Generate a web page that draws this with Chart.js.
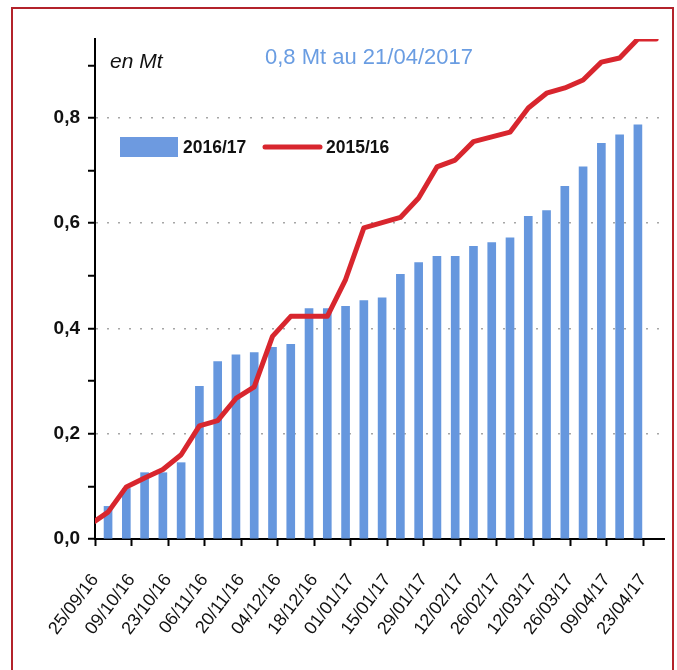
<!DOCTYPE html>
<html><head><meta charset="utf-8">
<script src="https://cdn.jsdelivr.net/npm/chart.js@4/dist/chart.umd.min.js"></script>
<style>
html,body{margin:0;padding:0;background:#fff;}
#wrap{position:relative;width:677px;height:670px;overflow:hidden;background:#fff;}
#frame{position:absolute;left:11px;top:7px;width:663px;height:720px;border:2px solid #b3232b;box-sizing:border-box;pointer-events:none;}
canvas{position:absolute;left:0;top:0;}
</style></head><body>
<div id="wrap"><canvas id="c" width="677" height="670"></canvas><div id="frame"></div></div>
<script>
// ---- data ----
const startDate = '25/09/16';
const barDates = ['30/09/16','07/10/16','14/10/16','21/10/16','28/10/16','04/11/16','11/11/16','18/11/16','25/11/16','02/12/16',
  '09/12/16','16/12/16','23/12/16','30/12/16','06/01/17','13/01/17','20/01/17','27/01/17','03/02/17','10/02/17',
  '17/02/17','24/02/17','03/03/17','10/03/17','17/03/17','24/03/17','31/03/17','07/04/17','14/04/17','21/04/17'];
const bars2016_17 = [0.062,0.096,0.126,0.126,0.145,0.290,0.337,0.350,0.354,0.364,
  0.370,0.438,0.438,0.442,0.453,0.458,0.503,0.525,0.537,0.537,
  0.556,0.563,0.572,0.613,0.624,0.670,0.707,0.752,0.768,0.787];
const lineDates = ['25/09/16','30/09/16','07/10/16','14/10/16','21/10/16','28/10/16','04/11/16','11/11/16','18/11/16','25/11/16','02/12/16',
  '09/12/16','16/12/16','23/12/16','30/12/16','06/01/17','13/01/17','20/01/17','27/01/17','03/02/17','10/02/17',
  '17/02/17','24/02/17','03/03/17','10/03/17','17/03/17','24/03/17','31/03/17','07/04/17','14/04/17','21/04/17','28/04/17'];
const line2015_16 = [0.034,0.051,0.099,0.116,0.132,0.160,0.215,0.225,0.267,0.289,0.385,
  0.423,0.423,0.423,0.493,0.591,0.601,0.611,0.648,0.707,0.720,
  0.755,0.764,0.773,0.819,0.847,0.857,0.872,0.906,0.914,0.950,0.950];
const xTickLabels = ['25/09/16','09/10/16','23/10/16','06/11/16','20/11/16','04/12/16','18/12/16','01/01/17',
  '15/01/17','29/01/17','12/02/17','26/02/17','12/03/17','26/03/17','09/04/17','23/04/17'];
const yTickLabels = ['0,0','0,2','0,4','0,6','0,8'];
const seriesNames = ['2016/17','2015/16'];
const unitLabel = 'en Mt';
const noteLabel = '0,8 Mt au 21/04/2017';

// ---- helpers ----
function toUTC(s){const p=s.split('/');return Date.UTC(2000+ +p[2], +p[1]-1, +p[0]);}
const t0 = toUTC(startDate);
function dayOf(s){return Math.round((toUTC(s)-t0)/86400000);}

const BLUE = '#6697de';
const RED = '#d8262e';
const SANS = "'Liberation Sans', Arial, sans-serif";

const overlay = {
  id: 'overlay',
  afterDraw(chart){
    const ctx = chart.ctx;
    ctx.save();
    ctx.textBaseline = 'middle';
    ctx.textAlign = 'left';
    ctx.fillStyle = '#111';
    ctx.font = "italic 21px " + SANS;
    ctx.fillText(unitLabel, 110, 62);
    ctx.fillStyle = '#6a9de2';
    ctx.font = "22px " + SANS;
    ctx.fillText(noteLabel, 265, 58);
    // legend
    ctx.fillStyle = '#6d9ae0';
    ctx.fillRect(120, 137, 58, 20);
    ctx.fillStyle = '#111';
    ctx.font = "bold 17.5px " + SANS;
    ctx.fillText(seriesNames[0], 183, 148);
    ctx.strokeStyle = RED; ctx.lineWidth = 5; ctx.lineCap = 'round';
    ctx.beginPath(); ctx.moveTo(265,147); ctx.lineTo(320,147); ctx.stroke();
    ctx.fillText(seriesNames[1], 326, 148);
    ctx.restore();
  }
};

new Chart(document.getElementById('c'), {
  type: 'bar',
  data: {
    datasets: [
      {
        type: 'line', label: seriesNames[1], order: 0,
        data: lineDates.map((d,i)=>({x: dayOf(d), y: line2015_16[i]})),
        borderColor: RED, borderWidth: 5, pointRadius: 0, tension: 0,
        borderJoinStyle: 'round', borderCapStyle: 'round', fill: false
      },
      {
        type: 'bar', label: seriesNames[0], order: 1,
        data: barDates.map((d,i)=>({x: dayOf(d), y: bars2016_17[i]})),
        backgroundColor: BLUE, borderWidth: 0, barThickness: 8
      }
    ]
  },
  options: {
    responsive: false, animation: false, devicePixelRatio: 1,
    layout: { padding: { left: 0, right: 13, top: 39, bottom: 0 } },
    plugins: { legend: { display: false }, tooltip: { enabled: false } },
    scales: {
      x: {
        type: 'linear', min: 0, max: 218, offset: false,
        afterFit(s){ s.height = 131; s.paddingLeft = 0; s.paddingRight = 0; },
        border: { color: '#000', width: 2 },
        grid: { offset: false, drawOnChartArea: false, drawTicks: true, tickLength: 7, tickColor: '#000', tickWidth: 2 },
        ticks: {
          stepSize: 14, includeBounds: false, autoSkip: false,
          maxRotation: 53, minRotation: 53, padding: 24,
          color: '#111', font: { family: SANS, size: 18 },
          callback: v => xTickLabels[Math.round(v/14)] ?? ''
        }
      },
      y: {
        min: 0, max: 0.95,
        afterFit(s){ s.width = 95; s.paddingTop = 0; s.paddingBottom = 0; },
        border: { color: '#000', width: 2, dash: [2, 9] },
        grid: {
          drawTicks: true, tickLength: 7, tickColor: '#000', tickWidth: 2,
          lineWidth: 1.5, tickBorderDash: [],
          color: c => { if(!c.tick) return 'rgba(0,0,0,0)'; const k = Math.round(c.tick.value*10); return (k>0 && k%2===0) ? '#a6a6a6' : 'rgba(0,0,0,0)'; }
        },
        ticks: {
          stepSize: 0.1, includeBounds: false, padding: 8,
          color: '#111', font: { family: SANS, size: 19, weight: 'bold' },
          callback: v => { const k = Math.round(v*10); return k%2===0 ? (yTickLabels[k/2] ?? '') : ''; }
        }
      }
    }
  },
  plugins: [overlay]
});
</script>
</body></html>
